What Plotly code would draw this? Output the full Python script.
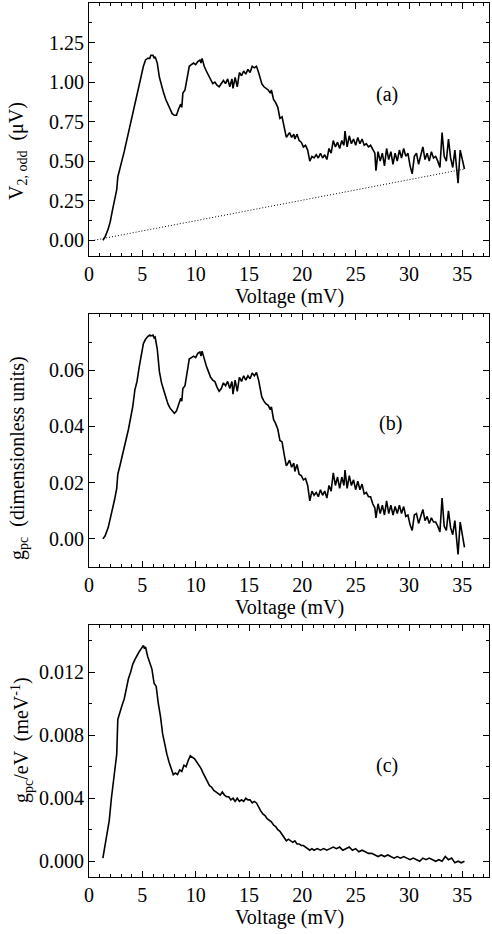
import plotly.graph_objects as go

# ---------------- data ----------------
v_ab = [1.3, 1.5, 1.8, 2.0, 2.2, 2.4, 2.6, 2.7, 2.9, 3.1, 3.3, 3.5, 3.7, 3.9, 4.1, 4.3, 4.5, 4.7, 4.9,
        5.1, 5.3, 5.5, 5.7, 5.8, 6.0, 6.1, 6.2, 6.3, 6.4, 6.6, 6.8, 7.0, 7.2, 7.4, 7.6, 7.8, 8.0, 8.2,
        8.4, 8.6, 8.7, 8.8, 9.0, 9.2, 9.4, 9.6, 9.8, 10.0, 10.2, 10.4, 10.5, 10.6, 10.8, 11.0, 11.2,
        11.4, 11.6, 11.8, 12.0, 12.2, 12.4, 12.6, 12.8, 13.0, 13.2, 13.4, 13.5, 13.7, 13.9, 14.1, 14.3,
        14.5, 14.7, 14.9, 15.1, 15.3, 15.5, 15.7, 15.9, 16.0, 16.2, 16.4, 16.6, 16.8, 17.0, 17.1, 17.3,
        17.5, 17.7, 17.9, 18.1, 18.3, 18.5, 18.6, 18.8, 19.0, 19.2, 19.3, 19.5, 19.7, 19.9, 20.1, 20.3,
        20.5, 20.7, 20.9, 21.1, 21.3, 21.5, 21.7, 21.9, 22.1, 22.3, 22.5, 22.7, 22.9, 23.1, 23.3, 23.5,
        23.7, 23.9, 24.0, 24.2, 24.4, 24.6, 24.8, 25.0, 25.2, 25.4, 25.6, 25.8, 26.0, 26.2, 26.4, 26.6,
        26.8, 26.9, 27.1, 27.3, 27.5, 27.7, 27.9, 28.1, 28.3, 28.5, 28.7, 28.9, 29.1, 29.3, 29.5, 29.7,
        29.9, 30.1, 30.3, 30.5, 30.7, 30.9, 31.1, 31.3, 31.5, 31.7, 31.9, 32.1, 32.3, 32.5, 32.7, 32.9,
        33.1, 33.3, 33.5, 33.7, 33.9, 34.1, 34.3, 34.5, 34.6, 34.8, 35.0, 35.2]

v2_odd = [0.00, 0.02, 0.07, 0.12, 0.19, 0.25, 0.32, 0.40, 0.45, 0.50, 0.56, 0.62, 0.68, 0.75, 0.80, 0.86,
          0.92, 0.98, 1.03, 1.10, 1.14, 1.15, 1.15, 1.17, 1.17, 1.15, 1.16, 1.13, 1.12, 1.03, 0.97, 0.93,
          0.89, 0.86, 0.82, 0.80, 0.79, 0.79, 0.83, 0.86, 0.84, 0.93, 0.95, 1.03, 1.10, 1.11, 1.12, 1.11,
          1.13, 1.14, 1.12, 1.15, 1.10, 1.07, 1.04, 1.02, 0.99, 1.00, 0.98, 0.97, 0.99, 1.01, 0.99, 1.02,
          0.97, 1.02, 0.96, 1.03, 0.97, 1.06, 1.04, 1.07, 1.05, 1.08, 1.06, 1.10, 1.09, 1.10, 1.06, 1.03,
          0.99, 0.97, 0.96, 0.95, 0.93, 0.95, 0.89, 0.87, 0.84, 0.77, 0.78, 0.72, 0.65, 0.66, 0.68, 0.65,
          0.67, 0.64, 0.67, 0.63, 0.62, 0.59, 0.60, 0.57, 0.50, 0.53, 0.52, 0.54, 0.52, 0.55, 0.52, 0.54,
          0.51, 0.58, 0.55, 0.63, 0.59, 0.62, 0.58, 0.63, 0.60, 0.69, 0.59, 0.66, 0.61, 0.64, 0.60, 0.65,
          0.61, 0.64, 0.60, 0.61, 0.59, 0.60, 0.57, 0.55, 0.44, 0.56, 0.50, 0.55, 0.47, 0.58, 0.51, 0.56,
          0.48, 0.55, 0.50, 0.57, 0.52, 0.58, 0.53, 0.55, 0.47, 0.42, 0.53, 0.55, 0.48, 0.54, 0.59, 0.51,
          0.55, 0.50, 0.56, 0.52, 0.53, 0.50, 0.46, 0.68, 0.53, 0.50, 0.64, 0.52, 0.46, 0.57, 0.44, 0.36,
          0.57, 0.51, 0.45]

g_pc = [0.000, 0.001, 0.004, 0.007, 0.010, 0.014, 0.018, 0.023, 0.026, 0.029, 0.032, 0.035, 0.039, 0.043,
        0.047, 0.053, 0.056, 0.061, 0.065, 0.0695, 0.071, 0.072, 0.0725, 0.0722, 0.0725, 0.0715, 0.0718,
        0.069, 0.0675, 0.0595, 0.0555, 0.053, 0.050, 0.048, 0.0465, 0.0455, 0.0447, 0.0455, 0.048, 0.050,
        0.049, 0.0535, 0.0545, 0.059, 0.064, 0.0645, 0.065, 0.0645, 0.066, 0.0665, 0.065, 0.0668, 0.064,
        0.0615, 0.0595, 0.0575, 0.0565, 0.056, 0.054, 0.0525, 0.0535, 0.0555, 0.0545, 0.056, 0.0535, 0.056,
        0.0515, 0.0565, 0.0525, 0.0575, 0.056, 0.058, 0.0565, 0.058, 0.057, 0.059, 0.058, 0.0592, 0.0565,
        0.054, 0.0505, 0.049, 0.048, 0.0475, 0.046, 0.047, 0.0425, 0.041, 0.039, 0.035, 0.0345, 0.030,
        0.026, 0.0265, 0.028, 0.0255, 0.027, 0.024, 0.0265, 0.023, 0.0225, 0.021, 0.0215, 0.019, 0.0135,
        0.017, 0.0155, 0.0165, 0.015, 0.0175, 0.0155, 0.017, 0.0145, 0.019, 0.017, 0.0235, 0.019, 0.022,
        0.018, 0.022, 0.019, 0.0245, 0.018, 0.0225, 0.019, 0.021, 0.0175, 0.0205, 0.0175, 0.0195, 0.016,
        0.0165, 0.015, 0.015, 0.0125, 0.011, 0.0075, 0.0125, 0.009, 0.012, 0.0085, 0.0135, 0.009, 0.012,
        0.0085, 0.0115, 0.009, 0.012, 0.009, 0.0115, 0.008, 0.0085, 0.005, 0.003, 0.0085, 0.009, 0.0055,
        0.008, 0.0105, 0.0065, 0.008, 0.0055, 0.0075, 0.006, 0.006, 0.0045, 0.0025, 0.0145, 0.0045, 0.003,
        0.010, 0.004, 0.0015, 0.0065, 0.000, -0.0055, 0.006, 0.002, -0.003]

v_c = [1.3, 1.5, 1.7, 1.9, 2.1, 2.3, 2.5, 2.6, 2.7, 2.9, 3.1, 3.3, 3.5, 3.7, 3.9, 4.1, 4.3, 4.5, 4.7, 4.9,
       5.0, 5.1, 5.2, 5.3, 5.5, 5.7, 5.9, 6.1, 6.3, 6.5, 6.7, 6.9, 7.1, 7.3, 7.5, 7.7, 7.9, 8.1, 8.3, 8.5,
       8.7, 8.9, 9.1, 9.3, 9.5, 9.7, 9.9, 10.1, 10.3, 10.5, 10.7, 10.9, 11.1, 11.3, 11.5, 11.7, 11.9, 12.1,
       12.3, 12.5, 12.7, 12.9, 13.1, 13.3, 13.5, 13.7, 13.9, 14.1, 14.3, 14.5, 14.7, 14.9, 15.1, 15.3, 15.5,
       15.7, 15.9, 16.1, 16.3, 16.5, 16.7, 16.9, 17.1, 17.3, 17.5, 17.7, 17.9, 18.1, 18.3, 18.5, 18.7, 18.9,
       19.1, 19.3, 19.5, 19.7, 19.9, 20.1, 20.3, 20.5, 20.7, 20.9, 21.1, 21.4, 21.7, 22.0, 22.3, 22.6, 22.9,
       23.2, 23.5, 23.8, 24.1, 24.4, 24.7, 25.0, 25.3, 25.6, 25.9, 26.2, 26.5, 26.8, 27.1, 27.4, 27.7, 28.0,
       28.3, 28.6, 28.9, 29.2, 29.5, 29.8, 30.1, 30.4, 30.7, 31.0, 31.3, 31.6, 31.9, 32.2, 32.5, 32.8, 33.1,
       33.4, 33.7, 34.0, 34.3, 34.6, 34.9, 35.2]

g_pc_ev = [0.0002, 0.0011, 0.0019, 0.0026, 0.0040, 0.0050, 0.0060, 0.0068, 0.0090, 0.0095, 0.0099, 0.0103,
           0.0110, 0.0116, 0.0120, 0.0125, 0.0128, 0.0131, 0.0133, 0.0135, 0.0136, 0.0137, 0.0135, 0.0136,
           0.0130, 0.0126, 0.0122, 0.0113, 0.0111, 0.0100, 0.0092, 0.0081, 0.0074, 0.0068, 0.0063, 0.0059,
           0.0055, 0.0056, 0.0055, 0.0058, 0.0057, 0.0061, 0.0060, 0.0064, 0.0067, 0.0066, 0.0065, 0.0063,
           0.0061, 0.0059, 0.0056, 0.0053, 0.0050, 0.0048, 0.0047, 0.0045, 0.0044, 0.0043, 0.0042, 0.0044,
           0.0042, 0.0041, 0.0041, 0.0039, 0.0040, 0.0038, 0.0040, 0.0038, 0.0039, 0.0038, 0.0040, 0.0039,
           0.0039, 0.0037, 0.0038, 0.0037, 0.0034, 0.0032, 0.0030, 0.0029, 0.0027, 0.0026, 0.0025, 0.0023,
           0.0022, 0.0020, 0.0019, 0.0017, 0.0015, 0.0013, 0.0014, 0.0013, 0.0012, 0.0013, 0.0011, 0.0011,
           0.0010, 0.0010, 0.0009, 0.0008, 0.0007, 0.0008, 0.0007, 0.0008, 0.0007, 0.0008, 0.0007, 0.0008,
           0.0009, 0.0008, 0.0009, 0.0007, 0.0008, 0.0009, 0.0007, 0.0008, 0.0006, 0.0007, 0.0006, 0.0005,
           0.0005, 0.0004, 0.0003, 0.0004, 0.0003, 0.0004, 0.0003, 0.0002, 0.0003, 0.0002, 0.0003, 0.0002,
           0.0001, 0.0002, 0.0001, 0.0000, 0.0002, 0.0001, 0.0002, 0.0001, 0.0000, 0.0001, 0.0000, 0.0003,
           0.0001, 0.0002, -0.0001, 0.0000, -0.0001, 0.0000]

bg_v = [0.5, 35.2]
bg_val = [0.0, 0.45]

x_ticks = [0, 5, 10, 15, 20, 25, 30, 35]
ya_ticks = [0.0, 0.25, 0.5, 0.75, 1.0, 1.25]
yb_ticks = [0.0, 0.02, 0.04, 0.06]
yc_ticks = [0.0, 0.004, 0.008, 0.012]

# ---------------- figure ----------------
FONT = "Liberation Serif, Times New Roman, DejaVu Serif, serif"
W, H = 492, 934
ML, MR, MT, MB = 89, 3, 3, 57
PW, PH = W - ML - MR, H - MT - MB


def py(p):  # pixel row -> paper y
    return (H - MB - p) / PH


def px(p):  # pixel column -> paper x
    return (p - ML) / PW


fig = go.Figure()
line = dict(color="black", width=1.6)
fig.add_trace(go.Scatter(x=v_ab, y=v2_odd, mode="lines", line=line, xaxis="x", yaxis="y"))
fig.add_trace(go.Scatter(x=bg_v, y=bg_val, mode="lines", line=dict(color="black", width=1, dash="1px,2px"),
                         xaxis="x", yaxis="y"))
fig.add_trace(go.Scatter(x=v_ab, y=g_pc, mode="lines", line=line, xaxis="x2", yaxis="y2"))
fig.add_trace(go.Scatter(x=v_c, y=g_pc_ev, mode="lines", line=line, xaxis="x3", yaxis="y3"))

common_ax = dict(showline=True, linecolor="black", linewidth=1, mirror="allticks", ticks="inside",
                 ticklen=6, tickwidth=1, tickcolor="black", showgrid=False, zeroline=False,
                 tickfont=dict(family=FONT, size=20, color="black"))


def xax(anchor):
    return dict(common_ax, range=[0, 37.5], tickvals=x_ticks, domain=[0, 1], anchor=anchor,
                minor=dict(ticks="inside", dtick=1, ticklen=3, tickcolor="black", showgrid=False))


doms = {
    "a": [py(256), py(3)],
    "b": [py(567), py(314)],
    "c": [py(877), py(625)],
}

fig.update_layout(
    width=W, height=H, margin=dict(l=ML, r=MR, t=MT, b=MB),
    paper_bgcolor="white", plot_bgcolor="white", showlegend=False,
    font=dict(family=FONT, size=20, color="black"),
    xaxis=xax("y"),
    xaxis2=xax("y2"),
    xaxis3=xax("y3"),
    yaxis=dict(common_ax, range=[-0.1, 1.5], tickvals=ya_ticks, tickformat=".2f", domain=doms["a"],
               anchor="x", minor=dict(ticks="inside", dtick=0.125, tick0=0, ticklen=3, tickcolor="black")),
    yaxis2=dict(common_ax, range=[-0.01, 0.08], tickvals=yb_ticks, tickformat=".2f", domain=doms["b"],
                anchor="x2", minor=dict(ticks="inside", dtick=0.01, tick0=0, ticklen=3, tickcolor="black")),
    yaxis3=dict(common_ax, range=[-0.001, 0.015], tickvals=yc_ticks, tickformat=".3f", domain=doms["c"],
                anchor="x3", minor=dict(ticks="inside", dtick=0.002, tick0=0, ticklen=3, tickcolor="black")),
)

ann = []
for yp in (296, 607, 917):
    ann.append(dict(text="Voltage (mV)", x=0.5, y=py(yp)))
ann.append(dict(text="V<sub>2, odd</sub>  (\u03bcV)", x=px(17), y=py(151), textangle=-90))
ann.append(dict(text="g<sub>pc</sub>  (dimensionless units)", x=px(18), y=py(458), textangle=-90))
ann.append(dict(text="g<sub>pc</sub>/eV  (meV<sup>-1</sup>)", x=px(22), y=py(740), textangle=-90))
ann.append(dict(text="(a)", x=px(387), y=py(94)))
ann.append(dict(text="(b)", x=px(390), y=py(423)))
ann.append(dict(text="(c)", x=px(387), y=py(765)))
for a in ann:
    a.update(xref="paper", yref="paper", showarrow=False, xanchor="center", yanchor="middle",
             font=dict(family=FONT, size=20, color="black"))
fig.update_layout(annotations=ann)

fig.write_html("out.html")
